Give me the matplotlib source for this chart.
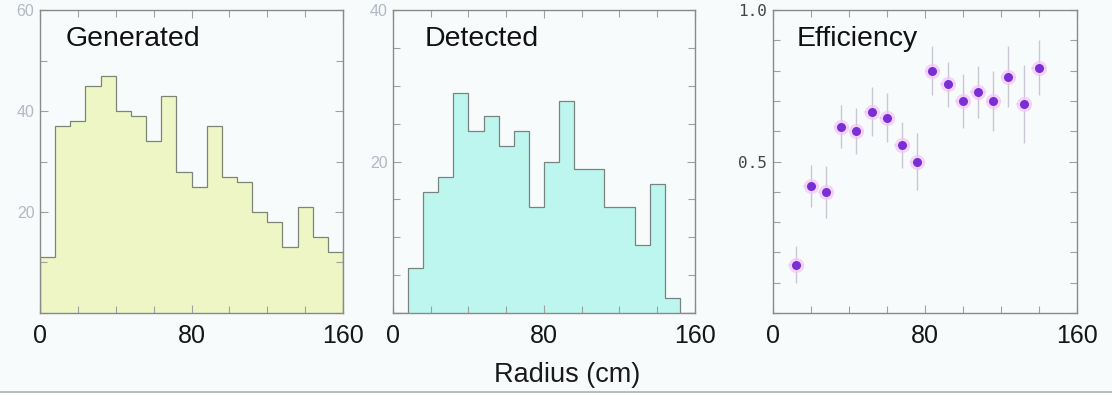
import numpy as np
import matplotlib
matplotlib.use("Agg")
import matplotlib.pyplot as plt
from matplotlib.ticker import FixedLocator, MultipleLocator
from matplotlib.lines import Line2D

plt.rcParams["font.family"] = ["Liberation Sans", "DejaVu Sans"]

# radius bins (cm), 20 bins of 8 cm
edges = np.arange(0, 161, 8)

generated = [11, 37, 38, 45, 47, 40, 39, 34, 43, 28,
             25, 37, 27, 26, 20, 18, 13, 21, 15, 12]
detected = [0, 6, 16, 18, 29, 24, 26, 22, 24, 14,
            20, 28, 19, 19, 14, 14, 9, 17, 2, 0]

# efficiency points (bin centres 12..140)
eff_r = [12, 20, 28, 36, 44, 52, 60, 68, 76, 84,
         92, 100, 108, 116, 124, 132, 140]
eff = [0.16, 0.42, 0.40, 0.615, 0.60, 0.665, 0.645, 0.555, 0.50, 0.80,
       0.755, 0.70, 0.73, 0.70, 0.78, 0.69, 0.81]
eff_err = [0.06, 0.07, 0.085, 0.07, 0.075, 0.08, 0.08, 0.075, 0.095, 0.08,
           0.075, 0.09, 0.085, 0.10, 0.10, 0.13, 0.09]

bg = "#f8fbfc"
fig = plt.figure(figsize=(11.12, 3.94), dpi=100, facecolor=bg)

w, h, b = 0.2725, 0.769, 0.2056
ax1 = fig.add_axes([0.036, b, w, h])
ax2 = fig.add_axes([0.3534, b, 0.2716, h])
ax3 = fig.add_axes([0.695, b, 0.2734, h])


def style(ax, ymax, ymajor, yminor, ylabcolor, yfont=None):
    ax.set_facecolor(bg)
    ax.set_xlim(0, 160)
    ax.set_ylim(0, ymax)
    for s in ax.spines.values():
        s.set_color("#8a8a8a")
        s.set_linewidth(1.0)
    ax.xaxis.set_major_locator(FixedLocator([0, 80, 160]))
    ax.xaxis.set_minor_locator(MultipleLocator(20))
    ax.yaxis.set_major_locator(FixedLocator(ymajor))
    ax.yaxis.set_minor_locator(MultipleLocator(yminor))
    ax.tick_params(which="both", direction="in", top=True, right=True,
                   color="#a0a0a0", width=0.8)
    ax.tick_params(which="major", length=6)
    ax.tick_params(which="minor", length=5)
    ax.tick_params(axis="x", which="major", labelsize=18, pad=8,
                   labelcolor="#161616")
    ax.tick_params(axis="y", which="major", labelsize=11.5, pad=4,
                   labelcolor=ylabcolor)
    if yfont:
        for lab in ax.get_yticklabels():
            lab.set_family(yfont)


# Generated
style(ax1, 60, [20, 40, 60], 10, "#b4b8c4")
ax1.stairs(generated, edges, fill=True, color="#eff6c6")
ax1.stairs(generated, edges, color="#7d8574", linewidth=0.9)
ax1.text(0.083, 0.905, "Generated", transform=ax1.transAxes,
         fontsize=20.5, va="center", ha="left", color="#111111")

# Detected
style(ax2, 40, [20, 40], 5, "#b4b8c4")
ax2.stairs(detected, edges, fill=True, color="#bdf6ef")
ax2.stairs(detected, edges, color="#78847f", linewidth=0.9)
ax2.text(0.106, 0.905, "Detected", transform=ax2.transAxes,
         fontsize=20.5, va="center", ha="left", color="#111111")

# Efficiency
style(ax3, 1.0, [0.5, 1.0], 0.1, "#444444", yfont="DejaVu Sans Mono")
ax3.set_yticklabels(["0.5", "1.0"])
ax3.errorbar(eff_r, eff, yerr=eff_err, fmt="none", ecolor="#cac6d2",
             elinewidth=1.0, capsize=0, zorder=2)
ax3.errorbar(eff_r, eff, xerr=4, fmt="none", ecolor="#f5dcf7",
             elinewidth=1.6, capsize=0, zorder=2)
ax3.plot(eff_r, eff, "o", ms=11, color="#f2c6f6", mec="none", alpha=0.7,
         zorder=3)
ax3.plot(eff_r, eff, "o", ms=6.5, color="#7a2fd6", mec="none", zorder=4)
ax3.text(0.079, 0.905, "Efficiency", transform=ax3.transAxes,
         fontsize=20.5, va="center", ha="left", color="#111111")

fig.text(0.51, 0.048, "Radius (cm)", fontsize=19.5, ha="center", va="center",
         color="#1a1a1a")
fig.add_artist(Line2D([0, 1], [0.004, 0.004], transform=fig.transFigure,
                      color="#b0b0b0", linewidth=1.2))

fig.savefig("out.png", dpi=100, facecolor=bg)
